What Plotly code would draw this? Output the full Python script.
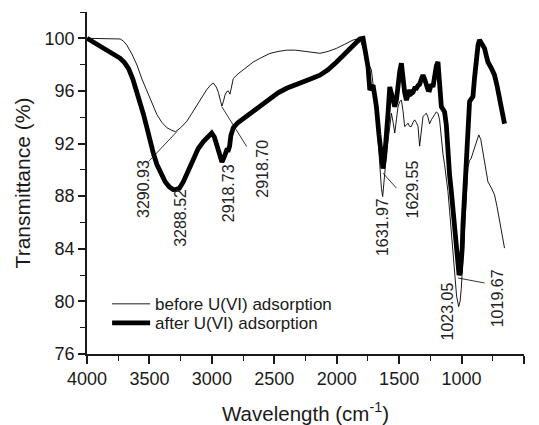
import plotly.graph_objects as go

# ---- data (wavenumber cm^-1, transmittance %) ----
before_x = [4000, 3900, 3800, 3734, 3710, 3682, 3640, 3600, 3560, 3520, 3480, 3440, 3400, 3360, 3320, 3291,
            3250, 3200, 3160, 3120, 3080, 3041, 3010, 2988, 2965, 2948, 2930, 2919, 2905, 2894, 2880, 2868,
            2855, 2840, 2828, 2790, 2748, 2700, 2668, 2600, 2535, 2470, 2401, 2330, 2268, 2200, 2135, 2070,
            2001, 1935, 1869, 1815, 1780, 1762, 1749, 1735, 1722, 1709, 1695, 1682, 1668, 1655, 1642, 1632,
            1622, 1615, 1602, 1589, 1575, 1562, 1548, 1535, 1522, 1509, 1495, 1482, 1469, 1456, 1442, 1429,
            1416, 1402, 1389, 1376, 1362, 1349, 1336, 1322, 1309, 1295, 1282, 1269, 1256, 1242, 1229, 1216,
            1202, 1189, 1176, 1162, 1149, 1136, 1122, 1109, 1096, 1082, 1069, 1056, 1040, 1023, 1012, 1002,
            989, 976, 962, 949, 936, 922, 909, 896, 880, 862, 846, 830, 810, 789, 760, 736, 716, 696, 676, 656]
before_y = [100, 99.97, 99.97, 99.95, 99.8, 99.5, 98.8, 97.97, 96.9, 95.95, 95.0, 94.2, 93.6, 93.2, 93.0, 92.9,
            93.2, 93.7, 94.3, 94.9, 95.5, 96.1, 96.45, 96.6, 96.3, 95.9, 95.2, 94.85, 95.3, 95.7, 95.95, 96.0,
            95.75, 96.5, 96.95, 97.3, 97.6, 97.95, 98.2, 98.55, 98.85, 99.0, 99.1, 99.1, 99.04, 98.95, 98.86, 99.0,
            99.24, 99.55, 99.87, 100, 99.0, 98.1, 97.9, 97.85, 97.6, 96.5, 95.3, 94.05, 92.2, 90.0, 88.6, 87.97,
            88.8, 89.75, 91.2, 92.3, 93.5, 94.3, 93.6, 92.8, 93.8, 94.8, 95.2, 95.3, 94.5, 93.3, 93.4, 93.55,
            93.3, 93.3, 93.6, 93.8, 93.6, 93.3, 91.8, 93.0, 94.05, 94.2, 94.3, 94.0, 93.5, 93.8, 94.05, 94.2,
            94.4, 94.3, 93.8, 92.2, 91.2, 90.4, 89.5, 88.35, 86.9, 85.3, 83.6, 81.8, 80.4, 79.6, 80.0, 81.0,
            83.3, 85.8, 88.3, 90.2, 90.7, 90.9, 91.3, 91.65, 92.2, 92.66, 92.3, 91.4, 90.3, 89.1, 88.6, 88.1,
            87.2, 86.1, 85.1, 84.05]

after_x = [4000, 3950, 3894, 3800, 3734, 3700, 3667, 3633, 3600, 3573, 3547, 3520, 3494, 3467, 3440, 3407,
           3374, 3340, 3310, 3289, 3260, 3228, 3190, 3148, 3110, 3068, 3030, 3001, 2980, 2961, 2940, 2919,
           2900, 2881, 2868, 2858, 2848, 2828, 2790, 2748, 2700, 2668, 2600, 2535, 2470, 2401, 2330, 2268,
           2200, 2135, 2070, 2001, 1950, 1895, 1850, 1815, 1789, 1770, 1749, 1735, 1722, 1709, 1695, 1682,
           1662, 1642, 1630, 1616, 1602, 1589, 1575, 1562, 1548, 1535, 1522, 1509, 1495, 1482, 1469, 1456,
           1442, 1429, 1416, 1402, 1389, 1376, 1362, 1349, 1336, 1322, 1309, 1296, 1282, 1269, 1256, 1242,
           1229, 1216, 1202, 1189, 1176, 1162, 1149, 1136, 1122, 1109, 1096, 1082, 1069, 1056, 1040, 1020,
           1010, 1002, 995, 989, 976, 962, 949, 936, 922, 909, 896, 882, 868, 856, 845, 830, 816, 800, 789,
           760, 736, 716, 696, 676, 656]
after_y = [100, 99.7, 99.36, 98.9, 98.48, 98.15, 97.7, 96.9, 95.95, 95.1, 94.2, 93.2, 92.15, 91.2, 90.4, 89.7,
           89.1, 88.7, 88.5, 88.5, 88.6, 89.1, 89.9, 90.9, 91.6, 92.15, 92.6, 92.8, 92.5, 91.9, 91.0, 90.6,
           91.0, 91.5, 91.5, 91.8, 92.6, 93.2, 93.6, 93.9, 94.2, 94.4, 94.9, 95.4, 95.85, 96.2, 96.5, 96.7,
           96.95, 97.2, 97.6, 98.2, 98.7, 99.24, 99.65, 99.95, 100, 98.8, 97.8, 96.07, 96.2, 96.45, 95.6, 94.8,
           92.7, 90.76, 90.1, 91.0, 92.3, 94.3, 96.3, 95.9, 95.3, 94.8, 95.3, 96.5, 97.5, 98.1, 96.8, 95.9,
           95.3, 95.6, 96.07, 95.8, 95.9, 96.2, 96.2, 96.4, 96.5, 96.9, 97.2, 96.9, 96.4, 96.1, 96.07, 96.5,
           96.3, 97.3, 97.9, 98.2, 96.5, 94.8, 94.6, 94.4, 93.4, 90.9, 89.6, 88.35, 86.8, 85.3, 83.6, 82.0,
           82.2, 82.8, 84.0, 85.8, 88.5, 90.9, 93.3, 95.2, 95.4, 95.57, 97.0, 98.48, 99.5, 99.87, 99.7, 99.3,
           99.24, 98.6, 98.2, 97.7, 97.2, 96.4, 95.44, 94.5, 93.5]

series_names = ["before U(VI) adsorption", "after U(VI) adsorption"]

# peak labels: text, label-centre position, leader line (from, to)
peak_labels = ["3290.93", "3288.52", "2918.73", "2918.70", "1631.97", "1629.55", "1023.05", "1019.67"]
label_x = [3542, 3246, 2871, 2591, 1631, 1392, 1116, 712]
label_y = [88.56, 86.36, 88.22, 90.08, 85.63, 88.48, 79.24, 80.2]
leader_x0 = [3280, 2921, 1629, 1029]
leader_y0 = [92.91, 94.81, 89.75, 81.78]
leader_x1 = [3507, 2721, 1522, 816]
leader_y1 = [90.63, 91.77, 88.61, 81.4]

x_ticks = [4000, 3500, 3000, 2500, 2000, 1500, 1000, 500]
y_ticks = [76, 80, 84, 88, 92, 96, 100]

FONT = "Arial, Liberation Sans, Helvetica, sans-serif"
INK = "#1a1a1a"

fig = go.Figure()
fig.add_trace(go.Scatter(x=before_x, y=before_y, mode="lines", name=series_names[0], legend="legend",
                         line=dict(color="black", width=0.9)))
fig.add_trace(go.Scatter(x=after_x, y=after_y, mode="lines", name=series_names[1], legend="legend2",
                         line=dict(color="black", width=4.8)))

for t, lx, ly in zip(peak_labels, label_x, label_y):
    fig.add_annotation(x=lx, y=ly, xref="x", yref="y", text=t, textangle=-90, showarrow=False,
                       xanchor="center", yanchor="middle", font=dict(family=FONT, size=16, color="#222"))

for x0, y0, x1, y1 in zip(leader_x0, leader_y0, leader_x1, leader_y1):
    fig.add_shape(type="line", xref="x", yref="y", x0=x0, y0=y0, x1=x1, y1=y1,
                  line=dict(color="black", width=0.8))

legend_common = dict(xanchor="left", yanchor="top", bgcolor="rgba(0,0,0,0)",
                     font=dict(family=FONT, size=17, color=INK), itemwidth=38)

fig.update_layout(
    width=539, height=425,
    margin=dict(l=87, r=15, t=12, b=71, autoexpand=False),
    paper_bgcolor="white", plot_bgcolor="white",
    font=dict(family=FONT, color=INK),
    showlegend=True,
    legend=dict(x=0.046, y=0.198, **legend_common),
    legend2=dict(x=0.046, y=0.1426, **legend_common),
    xaxis=dict(range=[4000, 500], tickvals=x_ticks, ticks="outside", ticklen=8, tickwidth=1.5,
               tickcolor=INK, showline=True, linecolor=INK, linewidth=1.5, showgrid=False, zeroline=False,
               tickfont=dict(size=18, color=INK), automargin=False,
               minor=dict(dtick=250, tick0=500, ticks="outside", ticklen=5, tickwidth=1.2, tickcolor=INK),
               title=dict(text="Wavelength (cm<sup>-1</sup>)", font=dict(size=20.5, color=INK), standoff=21)),
    yaxis=dict(range=[76, 102], tickvals=y_ticks, ticks="outside", ticklen=7, tickwidth=1.5,
               tickcolor=INK, showline=True, linecolor=INK, linewidth=1.5, showgrid=False, zeroline=False,
               tickfont=dict(size=18, color=INK), automargin=False,
               minor=dict(dtick=2, tick0=76, ticks="outside", ticklen=5, tickwidth=1.2, tickcolor=INK),
               title=dict(text="Transmittance (%)", font=dict(size=21, color=INK), standoff=8)),
    xaxis2=dict(overlaying="x", side="top", anchor="y", range=[4000, 500], dtick=250, tick0=500,
                ticks="inside", ticklen=5, tickwidth=1.2, tickcolor=INK, showticklabels=False,
                showline=True, linecolor=INK, linewidth=1.5, showgrid=False, zeroline=False),
    yaxis2=dict(overlaying="y", side="right", anchor="x", range=[76, 102], dtick=2, tick0=76,
                ticks="inside", ticklen=5, tickwidth=1.2, tickcolor=INK, showticklabels=False,
                showline=True, linecolor=INK, linewidth=1.5, showgrid=False, zeroline=False),
)

fig.write_html("out.html")
